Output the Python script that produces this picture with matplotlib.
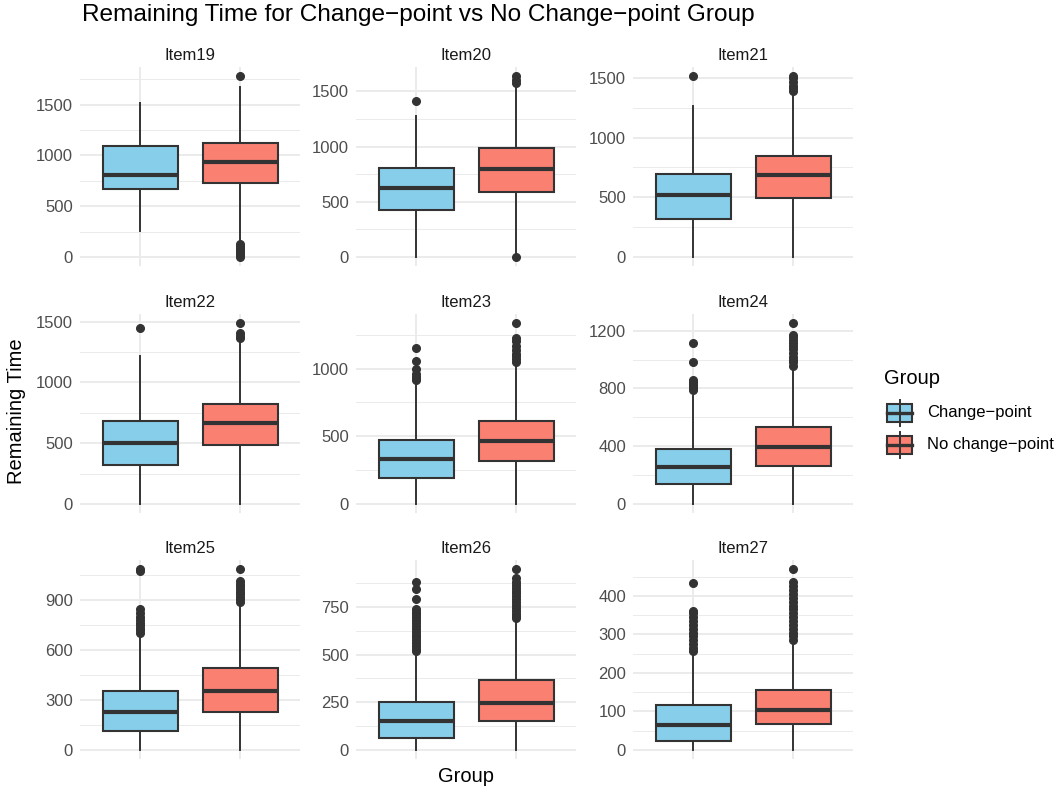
import matplotlib

matplotlib.use("Agg")
import matplotlib.patches as mpatches
import matplotlib.pyplot as plt
from matplotlib.lines import Line2D
from matplotlib.ticker import MultipleLocator, NullFormatter

plt.rcParams["font.family"] = ["Liberation Sans", "DejaVu Sans"]

# Box statistics (remaining time, per item and group).
ITEMS = ["Item19", "Item20", "Item21", "Item22", "Item23",
         "Item24", "Item25", "Item26", "Item27"]
GROUPS = ["Change\u2212point", "No change\u2212point"]

CP_LO = [255, 0, 0, 0, 0, 0, 0, 0, 0]
CP_Q1 = [667, 430, 320, 323, 188, 141, 115, 63, 22]
CP_MED = [804, 623, 519, 500, 331, 255, 228, 154, 65]
CP_Q3 = [1088, 810, 696, 679, 472, 383, 352, 249, 116]
CP_HI = [1510, 1276, 1265, 1218, 891, 747, 694, 513, 254]
CP_OUT = [
    [],
    [1410],
    [1515],
    [1452],
    [915, 930, 940, 960, 999, 1059, 1155],
    [789, 800, 812, 825, 836, 848, 859, 984, 1116],
    [705, 720, 735, 750, 765, 780, 800, 820, 845, 1075, 1085],
    [518, 530, 545, 560, 575, 590, 605, 620, 635, 650, 665, 680, 695,
     710, 725, 741, 790, 843, 878],
    [256, 265, 275, 285, 295, 305, 315, 325, 335, 345, 355, 362, 433],
]

NCP_LO = [150, 15, 0, 0, 0, 0, 0, 0, 0]
NCP_Q1 = [725, 590, 497, 483, 319, 260, 228, 154, 67]
NCP_MED = [931, 795, 685, 665, 468, 394, 352, 248, 103]
NCP_Q3 = [1118, 985, 848, 823, 611, 534, 491, 364, 155]
NCP_HI = [1676, 1563, 1364, 1337, 1034, 928, 870, 681, 283]
NCP_OUT = [
    [1780, 130, 110, 90, 70, 50, 30, 15, 0],
    [1580, 1600, 1640, 0],
    [1386, 1414, 1430, 1469, 1502, 1515],
    [1365, 1380, 1406, 1489],
    [1051, 1069, 1090, 1108, 1138, 1170, 1200, 1225, 1336],
    [956, 980, 998, 1020, 1045, 1070, 1091, 1115, 1137, 1155, 1172, 1253],
    [886, 906, 920, 936, 950, 966, 985, 997, 1017, 1087],
    [689, 700, 715, 730, 745, 760, 775, 790, 805, 820, 835, 850, 865,
     880, 899, 948],
    [285, 295, 305, 315, 325, 335, 345, 355, 365, 375, 385, 395, 405,
     415, 425, 437, 470],
]

Y_STEP = [500, 500, 500, 500, 500, 400, 300, 250, 100]

FILLS = ["#87CEEB", "#FA8072"]
INK = "#333333"
GRID = "#EBEBEB"
TICK_TXT = "#4D4D4D"

W, H = 1056, 793
COL_X = [80, 356, 633]
ROW_Y = [67, 314, 560]
PW, PH = 220, 199


def px_axes(fig, x, y, w, h):
    return fig.add_axes([x / W, 1 - (y + h) / H, w / W, h / H])


fig = plt.figure(figsize=(W / 100, H / 100), dpi=100)
fig.patch.set_facecolor("white")

for i, item in enumerate(ITEMS):
    r, c = divmod(i, 3)
    ax = px_axes(fig, COL_X[c], ROW_Y[r], PW, PH)
    stats = [
        dict(whislo=CP_LO[i], q1=CP_Q1[i], med=CP_MED[i], q3=CP_Q3[i],
             whishi=CP_HI[i], fliers=CP_OUT[i]),
        dict(whislo=NCP_LO[i], q1=NCP_Q1[i], med=NCP_MED[i], q3=NCP_Q3[i],
             whishi=NCP_HI[i], fliers=NCP_OUT[i]),
    ]
    bp = ax.bxp(
        stats, positions=[1, 2], widths=0.75, patch_artist=True,
        showcaps=False,
        boxprops=dict(linewidth=1.5, edgecolor=INK),
        whiskerprops=dict(color=INK, linewidth=1.4),
        medianprops=dict(color=INK, linewidth=3.0, solid_capstyle="butt"),
        flierprops=dict(marker="o", markerfacecolor=INK, markeredgecolor=INK,
                        markersize=5.5, linestyle="none"),
    )
    for patch, col in zip(bp["boxes"], FILLS):
        patch.set_facecolor(col)

    ax.set_xlim(0.4, 2.6)
    ax.margins(y=0.05)
    ax.autoscale_view()
    ax.set_xticks([1, 2])
    ax.set_xticklabels(["", ""])
    ax.yaxis.set_major_locator(MultipleLocator(Y_STEP[i]))
    ax.yaxis.set_minor_locator(MultipleLocator(Y_STEP[i] / 2))
    ax.yaxis.set_minor_formatter(NullFormatter())
    ax.set_axisbelow(True)
    ax.grid(True, which="major", color=GRID, linewidth=1.4)
    ax.grid(True, which="minor", axis="y", color=GRID, linewidth=0.7)
    ax.tick_params(which="both", length=0, labelsize=12,
                   labelcolor=TICK_TXT, pad=5)
    for spine in ax.spines.values():
        spine.set_visible(False)
    ax.set_title(item, fontsize=12, color="#1A1A1A", pad=5)

fig.text(82 / W, 1 - 4 / H,
         "Remaining Time for Change\u2212point vs No Change\u2212point Group",
         ha="left", va="top", fontsize=17.6, color="black")
fig.text(17 / W, 1 - 411 / H, "Remaining Time", rotation=90,
         ha="center", va="center", fontsize=14.5, color="black")
fig.text(466 / W, 1 - 777 / H, "Group", ha="center", va="center",
         fontsize=14.5, color="black")

# Legend drawn in pixel space to mimic ggplot's boxplot keys.
lax = px_axes(fig, 870, 360, 186, 110)
lax.set_xlim(870, 1056)
lax.set_ylim(470, 360)
lax.axis("off")
lax.text(884, 378, "Group", ha="left", va="center", fontsize=14.5,
         color="black")
for cy, col, label in zip([413, 445], FILLS, GROUPS):
    lax.add_line(Line2D([899.5, 899.5], [cy - 13, cy + 13], color=INK,
                        linewidth=1.4))
    lax.add_patch(mpatches.Rectangle((887, cy - 9), 25, 18, facecolor=col,
                                     edgecolor=INK, linewidth=1.5))
    lax.add_line(Line2D([887, 912], [cy, cy], color=INK, linewidth=2.4))
    lax.text(927, cy, label, ha="left", va="center", fontsize=12,
             color="black")

fig.savefig("out.png", dpi=100, facecolor=fig.get_facecolor())
